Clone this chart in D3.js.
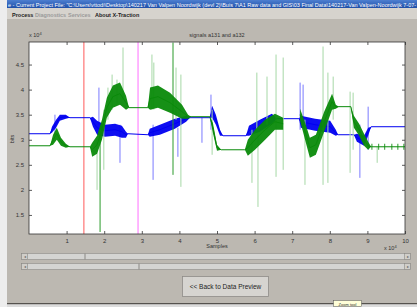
<!DOCTYPE html>
<html>
<head>
<meta charset="utf-8">
<script src="https://cdn.jsdelivr.net/npm/d3@7"></script>
<style>
  body { margin: 0; background: #e9e9e9; }
  svg { display: block; font-family: "Liberation Sans", Arial, sans-serif; }
</style>
</head>
<body>
<svg id="canvas" width="417" height="307"></svg>
<script>
// x in units of 10^4 samples, y in units of 10^4 bits
var xTicks = [1, 2, 3, 4, 5, 6, 7, 8, 9, 10];
var yTicks = [1.5, 2, 2.5, 3, 3.5, 4, 4.5];

// [x, centre, half width of the noise band]; null centre = gap
var blueTrace = [[0,3.12,0],[0.56,3.12,0],[0.61,3.2,0.06],[0.72,3.32,0.08],[0.82,3.44,0.06],[0.98,3.46,0.04],
  [1.09,3.44,0],[1.62,3.44,0],[1.70,3.36,0.1],[1.81,3.24,0.14],[2.02,3.18,0.12],[2.29,3.2,0.12],[2.47,3.16,0.12],
  [2.58,3.1,0.06],[2.63,3.12,0],[3.16,3.1,0],[3.21,3.14,0.08],[3.48,3.2,0.1],[3.88,3.32,0.1],[4.18,3.42,0.06],
  [4.28,3.44,0],[4.81,3.44,0],[4.87,3.56,0.12],[4.97,3.4,0.1],[5.08,3.14,0.06],[5.16,3.08,0],[5.77,3.08,0],
  [5.85,3.18,0.1],[6.14,3.28,0.12],[6.46,3.42,0.1],[6.60,3.42,0],[7.18,3.42,0],[7.23,3.36,0.12],[7.61,3.3,0.12],
  [8.01,3.26,0.12],[8.16,3.14,0.06],[8.22,3.1,0],[8.64,3.1,0],[8.72,3.04,0.08],[8.91,2.98,0.1],[9.02,3.16,0.08],
  [9.10,3.26,0],[10,3.26,0]];

var greenTrace = [[0,2.88,0],[0.56,2.88,0],[0.64,3.0,0.1],[0.74,3.12,0.12],[0.85,2.96,0.08],[0.98,2.88,0.04],
  [1.09,2.86,0],[1.62,2.86,0],[1.68,2.8,0.14],[1.81,2.9,0.18],[1.94,3.2,0.2],[2.07,3.64,0.2],[2.23,3.86,0.22],
  [2.42,3.92,0.22],[2.58,3.74,0.14],[2.66,3.64,0],[3.16,3.64,0],[3.22,3.82,0.22],[3.43,3.86,0.22],[3.75,3.74,0.2],
  [4.07,3.56,0.14],[4.23,3.46,0.04],[4.31,3.46,0],[4.81,3.46,0],[4.89,3.24,0.1],[5.0,2.84,0.06],[5.11,2.8,0],
  [5.74,2.8,0],[5.82,2.84,0.16],[6.01,3.0,0.2],[6.28,3.2,0.2],[6.54,3.36,0.16],[6.76,3.32,0.12],[6.8,null,0],
  [7.21,3.5,0.12],[7.37,3.1,0.18],[7.47,2.84,0.2],[7.63,2.9,0.2],[7.85,3.36,0.2],[8.06,3.76,0.16],[8.16,3.66,0.04],
  [8.24,3.66,0],[8.56,3.66,0],[8.64,3.36,0.12],[8.78,3.2,0.12],[8.91,3.0,0.12],[9.02,2.88,0.08],[9.10,2.86,0],
  [10,2.86,0]];

// isolated spikes: [x, top, bottom]
var greenSpikes = [[1.81,3.0,2.0],[1.99,3.6,2.4],[2.10,4.04,3.4],[2.21,4.3,3.6],[2.34,4.2,3.7],[2.5,4.84,3.8],
  [3.27,4.7,3.6],[3.32,4.54,3.6],[3.91,4.44,3.4],[4.04,4.3,2.06],[4.87,3.6,2.7],[5.93,3.2,2.14],[6.09,3.1,1.66],
  [6.06,4.34,3.2],[6.33,4.26,3.3],[6.57,4.7,2.26],[6.76,4.64,2.4],[7.34,3.4,2.1],[7.82,4.86,2.1],[7.95,4.34,2.14],
  [8.09,4.26,3.4],[8.54,3.96,2.34],[8.62,3.94,2.8],[9.26,2.86,2.54]];
var greenDarkSpikes = [[1.89,3.2,1.16],[3.83,4.94,2.3],[9.12,2.92,2.8],[9.3,2.92,2.8],[9.46,2.92,2.8],
  [9.65,2.92,2.8],[9.81,2.92,2.8],[9.97,2.92,2.8]];
var blueSpikes = [[0.69,3.5,3.1],[1.86,4.04,3.3],[2.42,3.3,2.54],[3.3,3.3,2.2],[3.96,3.24,2.66],[4.6,3.44,2.94],
  [4.84,3.9,3.2],[7.21,4.14,3.2],[7.29,4.1,3.2],[8.8,3.3,2.24],[9.02,3.66,2.8]];

var markers = [1.46, 2.9];
var markerColors = ["#ff5a5a", "#ff70ff"];

var svg = d3.select("#canvas");
var W = 417, H = 307;
var plot = {left: 29, right: 405, top: 42, bottom: 234};

// window chrome
svg.append("rect").attr("x", 0).attr("y", 0).attr("width", 7).attr("height", H).style("fill", "#ededed");
svg.append("rect").attr("x", 7).attr("y", 0).attr("width", W - 7).attr("height", 303).style("fill", "#bcb8b1");
svg.append("rect").attr("x", 7).attr("y", 303).attr("width", W - 7).attr("height", 1.5).style("fill", "#55524e");
svg.append("rect").attr("x", 7).attr("y", 304.5).attr("width", W - 7).attr("height", 3).style("fill", "#dcdcdc");

var grad = svg.append("defs").append("linearGradient").attr("id", "tb").attr("x1", 0).attr("x2", 0).attr("y1", 0).attr("y2", 1);
grad.append("stop").attr("offset", 0).style("stop-color", "#4d7fd0");
grad.append("stop").attr("offset", 1).style("stop-color", "#1f4fa8");
svg.append("rect").attr("x", 7).attr("y", 0).attr("width", W - 7).attr("height", 8).style("fill", "url(#tb)");
svg.append("text").attr("x", 8).attr("y", 6.5).style("font-size", "5.5px").style("fill", "#fff")
  .text("e - Current Project File: \"C:\\Users\\vttodi\\Desktop\\140217 Van Valpen Noordwijk (devl 2)\\Buis 7\\A1 Raw data and GIS\\03 Final Data\\140217-Van Valpen-Noordwijk 7-07-");

svg.append("rect").attr("x", 7).attr("y", 8).attr("width", W - 7).attr("height", 11).style("fill", "#d6d3cd");
var menu = [["Process", 12, "#222"], ["Diagnostics", 35, "#9a9a9a"], ["Services", 68, "#9a9a9a"], ["About X-Traction", 95, "#222"]];
menu.forEach(function(m){
  svg.append("text").attr("x", m[1]).attr("y", 16.5).style("font-size", "5.5px").style("font-weight", "bold")
    .style("fill", m[2]).text(m[0]);
});

// plot
var x = d3.scaleLinear().domain([0, 10]).range([plot.left, plot.right]);
var y = d3.scaleLinear().domain([1.12, 4.95]).range([plot.bottom, plot.top]);

svg.append("rect").attr("x", plot.left).attr("y", plot.top).attr("width", plot.right - plot.left)
  .attr("height", plot.bottom - plot.top).style("fill", "#fff");

var clip = svg.append("clipPath").attr("id", "clip");
clip.append("rect").attr("x", plot.left).attr("y", plot.top).attr("width", plot.right - plot.left).attr("height", plot.bottom - plot.top);
var g = svg.append("g").attr("clip-path", "url(#clip)");

markers.forEach(function(m, i){
  g.append("line").attr("x1", x(m)).attr("x2", x(m)).attr("y1", plot.top).attr("y2", plot.bottom)
    .style("stroke", markerColors[i]).style("stroke-width", 1);
});

function drawSpikes(data, color, width){
  g.selectAll(null).data(data).enter().append("line")
    .attr("x1", function(d){ return x(d[0]); }).attr("x2", function(d){ return x(d[0]); })
    .attr("y1", function(d){ return y(d[1]); }).attr("y2", function(d){ return y(d[2]); })
    .style("stroke", color).style("stroke-width", width);
}

function drawTrace(data, color){
  var band = d3.area().defined(function(d){ return d[1] != null; })
    .x(function(d){ return x(d[0]); })
    .y0(function(d){ return y(d[1] - d[2]); })
    .y1(function(d){ return y(d[1] + d[2]); });
  var line = d3.line().defined(function(d){ return d[1] != null; })
    .x(function(d){ return x(d[0]); })
    .y(function(d){ return y(d[1]); });
  g.append("path").attr("d", band(data)).style("fill", color).style("opacity", 0.95);
  g.append("path").attr("d", line(data)).style("fill", "none").style("stroke", color).style("stroke-width", 1);
}

drawSpikes(blueSpikes, "#7a7aff", 1);
drawTrace(blueTrace, "#0000f0");
drawSpikes(greenSpikes, "#a6d8a6", 1);
drawSpikes(greenDarkSpikes, "#2a9a2a", 1);
drawTrace(greenTrace, "#0a8a0a");

// axes, MATLAB style box with inward ticks
var axColor = "#333";
svg.append("rect").attr("x", plot.left).attr("y", plot.top).attr("width", plot.right - plot.left)
  .attr("height", plot.bottom - plot.top).style("fill", "none").style("stroke", axColor).style("stroke-width", 0.8);

var xb = svg.append("g").attr("transform", "translate(0," + plot.bottom + ")")
  .call(d3.axisBottom(x).tickValues(xTicks).tickSizeInner(-3).tickSizeOuter(0).tickPadding(5));
var xt = svg.append("g").attr("transform", "translate(0," + plot.top + ")")
  .call(d3.axisTop(x).tickValues(xTicks).tickSizeInner(-3).tickSizeOuter(0).tickFormat(""));
var yl = svg.append("g").attr("transform", "translate(" + plot.left + ",0)")
  .call(d3.axisLeft(y).tickValues(yTicks).tickSizeInner(-3).tickSizeOuter(0).tickPadding(5).tickFormat(d3.format("")));
var yr = svg.append("g").attr("transform", "translate(" + plot.right + ",0)")
  .call(d3.axisRight(y).tickValues(yTicks).tickSizeInner(-3).tickSizeOuter(0).tickFormat(""));
[xb, xt, yl, yr].forEach(function(a){
  a.select(".domain").remove();
  a.selectAll("line").style("stroke", axColor).style("stroke-width", 0.8);
  a.selectAll("text").style("font-size", "6px").style("fill", "#333").style("font-family", "Liberation Sans, Arial, sans-serif");
});

// labels
function exponent(xp, yp){
  var t = svg.append("text").attr("x", xp).attr("y", yp).style("font-size", "5.5px").style("fill", "#333");
  t.append("tspan").text("x 10");
  t.append("tspan").attr("dy", -2.5).style("font-size", "4px").text("4");
}
exponent(29, 37);
exponent(384, 250);
svg.append("text").attr("x", 217).attr("y", 37).attr("text-anchor", "middle").style("font-size", "5.5px")
  .style("fill", "#333").text("signals a131 and a132");
svg.append("text").attr("x", 217).attr("y", 248).attr("text-anchor", "middle").style("font-size", "5.5px")
  .style("fill", "#333").text("Samples");
svg.append("text").attr("transform", "translate(14,139) rotate(-90)").attr("text-anchor", "middle")
  .style("font-size", "5.5px").style("fill", "#333").text("bits");

// sliders
[[253, 85], [263, 139]].forEach(function(s){
  svg.append("rect").attr("x", 21.5).attr("y", s[0] + 0.5).attr("width", 389).attr("height", 6)
    .style("fill", "#d4d4d2").style("stroke", "#9c9a96").style("stroke-width", 0.8);
  svg.append("rect").attr("x", 21.5).attr("y", s[0] + 0.5).attr("width", 6).attr("height", 6)
    .style("fill", "#d0cec9").style("stroke", "#8a8884").style("stroke-width", 0.6);
  svg.append("rect").attr("x", 404.5).attr("y", s[0] + 0.5).attr("width", 6).attr("height", 6)
    .style("fill", "#d0cec9").style("stroke", "#8a8884").style("stroke-width", 0.6);
  svg.append("text").attr("x", 24.5).attr("y", s[0] + 5).attr("text-anchor", "middle").style("font-size", "4px").style("fill", "#666").text("◂");
  svg.append("text").attr("x", 407.5).attr("y", s[0] + 5).attr("text-anchor", "middle").style("font-size", "4px").style("fill", "#666").text("▸");
  svg.append("line").attr("x1", s[1]).attr("x2", s[1]).attr("y1", s[0] + 0.5).attr("y2", s[0] + 6.5)
    .style("stroke", "#8a8884").style("stroke-width", 1);
});

// button
svg.append("rect").attr("x", 182.5).attr("y", 276.5).attr("width", 86).attr("height", 20)
  .style("fill", "#d6d4d0").style("stroke", "#8e8c88").style("stroke-width", 0.8);
svg.append("text").attr("x", 225.5).attr("y", 289).attr("text-anchor", "middle").style("font-size", "6.5px")
  .style("fill", "#222").text("<< Back to Data Preview");

// tooltip
svg.append("rect").attr("x", 333.5).attr("y", 300.5).attr("width", 28).attr("height", 6)
  .style("fill", "#ffffd8").style("stroke", "#555").style("stroke-width", 0.5);
svg.append("text").attr("x", 347.5).attr("y", 305.5).attr("text-anchor", "middle").style("font-size", "4px")
  .style("fill", "#333").text("Zoom tool");
</script>
</body>
</html>
